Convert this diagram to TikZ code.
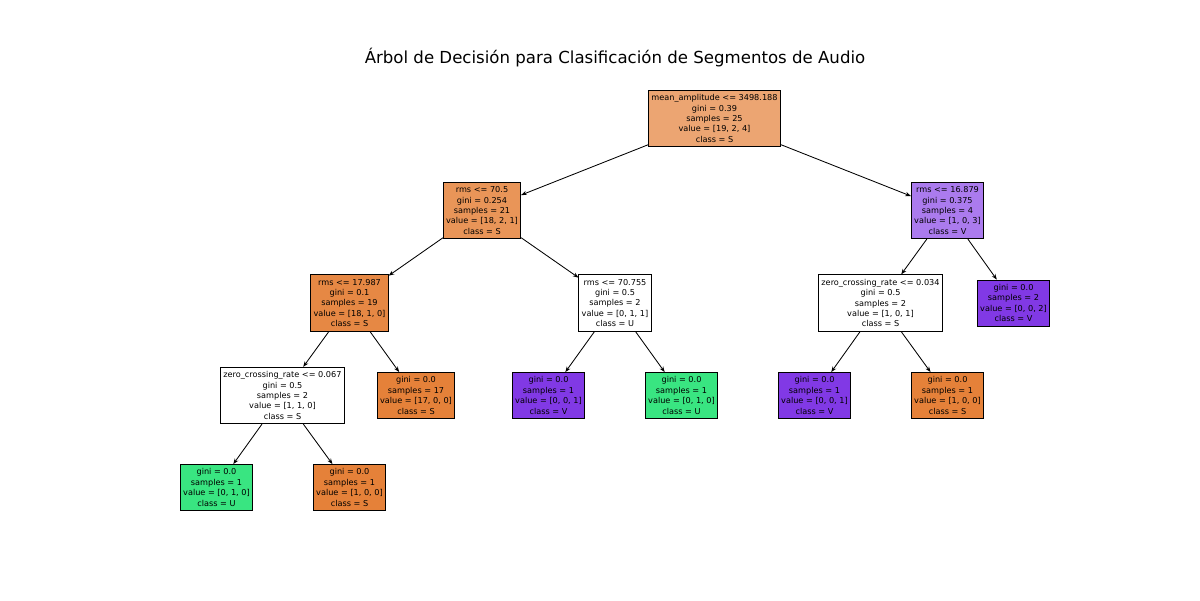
\documentclass[tikz,border=0pt]{standalone}
\usepackage{fontspec}
\setmainfont{DejaVu Sans}
\usetikzlibrary{arrows.meta, positioning}

\definecolor{classS}{HTML}{E58139}
\definecolor{classU}{HTML}{39E581}
\definecolor{classV}{HTML}{8139E5}
\definecolor{rootfill}{HTML}{ECA572}
\definecolor{rmsAfill}{HTML}{E99558}
\definecolor{rmsBfill}{HTML}{AB7BEE}
\definecolor{rmsCfill}{HTML}{E68844}

\begin{document}
\begin{tikzpicture}[
        split/.style={rectangle, draw, line width=0.6pt, align=center, inner xsep=2pt, inner ysep=3pt, font=\fontsize{5.8}{7.4}\selectfont},
        leaf/.style={split, minimum width=1.8cm},
        edge/.style={-{Stealth[length=4pt, width=3pt]}, line width=0.6pt}
    ]
    \useasboundingbox (0,0) rectangle (30,-15);
    % Title
    \node[font=\fontsize{11.8}{14}\selectfont] (title) at (15.375,-1.45) {Árbol de Decisión para Clasificación de Segmentos de Audio};
    % Level 0
    \node[split, fill=rootfill] (meanamp) at (17.8625,-2.9625) {mean\_amplitude <= 3498.188\\gini = 0.39\\samples = 25\\value = [19, 2, 4]\\class = S};
    % Level 1
    \node[split, fill=rmsAfill] (rmsA) at (12.05,-5.2625) {rms <= 70.5\\gini = 0.254\\samples = 21\\value = [18, 2, 1]\\class = S};
    \node[split, fill=rmsBfill] (rmsB) at (23.6875,-5.2625) {rms <= 16.879\\gini = 0.375\\samples = 4\\value = [1, 0, 3]\\class = V};
    % Level 2
    \node[split, fill=rmsCfill] (rmsC) at (8.7375,-7.575) {rms <= 17.987\\gini = 0.1\\samples = 19\\value = [18, 1, 0]\\class = S};
    \node[split, fill=white] (rmsD) at (15.375,-7.575) {rms <= 70.755\\gini = 0.5\\samples = 2\\value = [0, 1, 1]\\class = U};
    \node[split, fill=white] (zcrB) at (22.0125,-7.575) {zero\_crossing\_rate <= 0.034\\gini = 0.5\\samples = 2\\value = [1, 0, 1]\\class = S};
    \node[leaf, fill=classV] (leafVb) at (25.3375,-7.575) {gini = 0.0\\samples = 2\\value = [0, 0, 2]\\class = V};
    % Level 3
    \node[split, fill=white] (zcrA) at (7.0625,-9.8875) {zero\_crossing\_rate <= 0.067\\gini = 0.5\\samples = 2\\value = [1, 1, 0]\\class = S};
    \node[leaf, fill=classS] (leafSa) at (10.4,-9.8875) {gini = 0.0\\samples = 17\\value = [17, 0, 0]\\class = S};
    \node[leaf, fill=classV] (leafVa) at (13.7125,-9.8875) {gini = 0.0\\samples = 1\\value = [0, 0, 1]\\class = V};
    \node[leaf, fill=classU] (leafUa) at (17.0375,-9.8875) {gini = 0.0\\samples = 1\\value = [0, 1, 0]\\class = U};
    \node[leaf, fill=classV] (leafVc) at (20.3625,-9.8875) {gini = 0.0\\samples = 1\\value = [0, 0, 1]\\class = V};
    \node[leaf, fill=classS] (leafSb) at (23.6875,-9.8875) {gini = 0.0\\samples = 1\\value = [1, 0, 0]\\class = S};
    % Level 4
    \node[leaf, fill=classU] (leafUb) at (5.4125,-12.1875) {gini = 0.0\\samples = 1\\value = [0, 1, 0]\\class = U};
    \node[leaf, fill=classS] (leafSc) at (8.7375,-12.1875) {gini = 0.0\\samples = 1\\value = [1, 0, 0]\\class = S};
    % Connections
    \draw[edge] (meanamp) -- (rmsA);
    \draw[edge] (meanamp) -- (rmsB);
    \draw[edge] (rmsA) -- (rmsC);
    \draw[edge] (rmsA) -- (rmsD);
    \draw[edge] (rmsB) -- (zcrB);
    \draw[edge] (rmsB) -- (leafVb);
    \draw[edge] (rmsC) -- (zcrA);
    \draw[edge] (rmsC) -- (leafSa);
    \draw[edge] (rmsD) -- (leafVa);
    \draw[edge] (rmsD) -- (leafUa);
    \draw[edge] (zcrB) -- (leafVc);
    \draw[edge] (zcrB) -- (leafSb);
    \draw[edge] (zcrA) -- (leafUb);
    \draw[edge] (zcrA) -- (leafSc);
\end{tikzpicture}
\end{document}
